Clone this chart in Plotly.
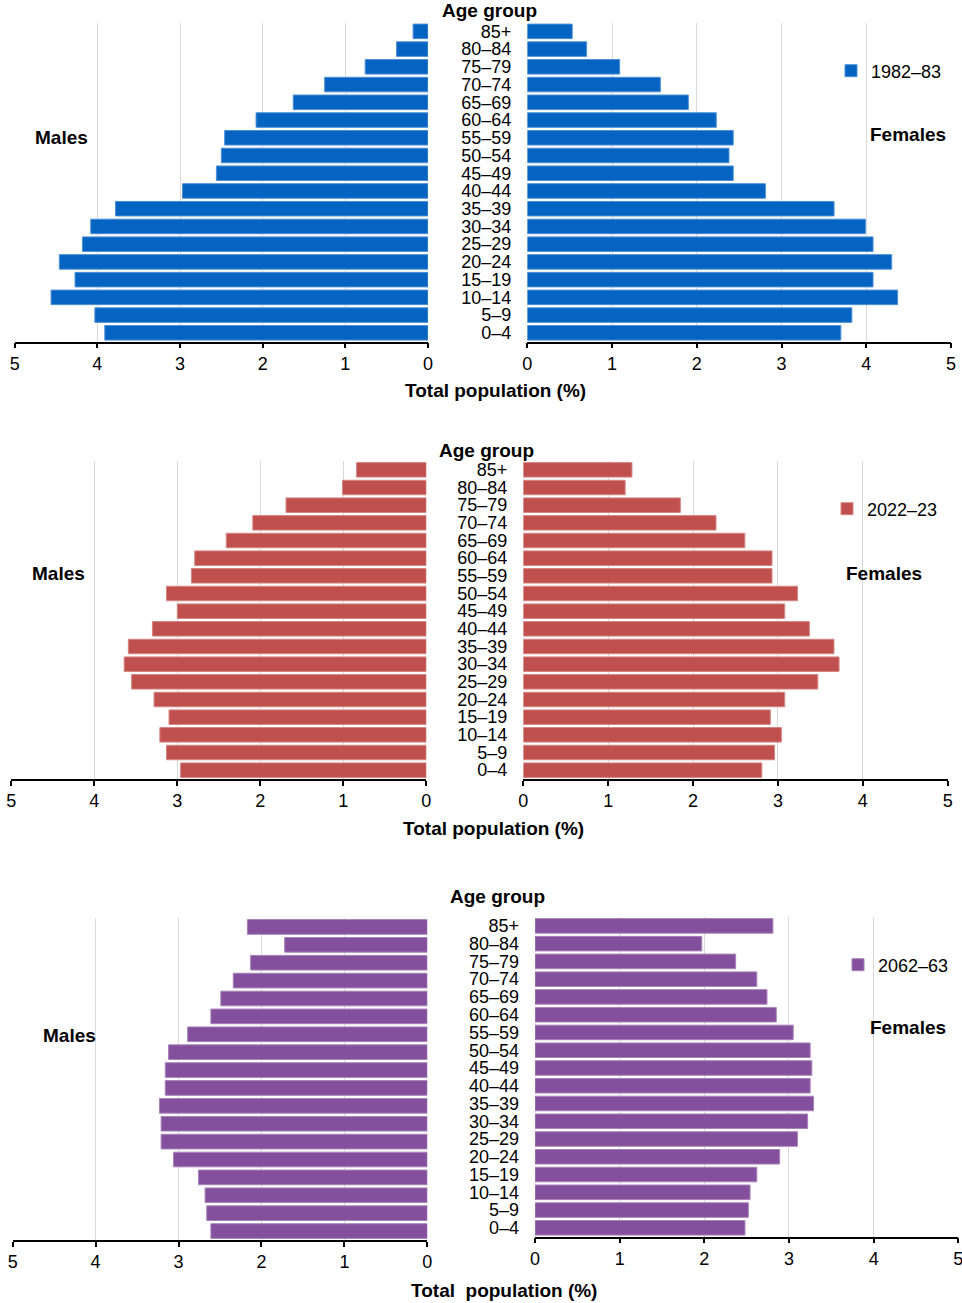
import plotly.graph_objects as go

# ---------------- data ----------------
age_groups = ["0–4", "5–9", "10–14", "15–19", "20–24", "25–29", "30–34", "35–39",
              "40–44", "45–49", "50–54", "55–59", "60–64", "65–69", "70–74",
              "75–79", "80–84", "85+"]

# values listed from 0–4 up to 85+ (percent of total population)
males_1982 = [3.91, 4.03, 4.56, 4.27, 4.46, 4.18, 4.08, 3.78, 2.97, 2.56, 2.50, 2.46,
              2.08, 1.63, 1.25, 0.76, 0.38, 0.18]
females_1982 = [3.70, 3.83, 4.37, 4.08, 4.30, 4.08, 3.99, 3.62, 2.81, 2.43, 2.38, 2.43,
                2.23, 1.90, 1.57, 1.09, 0.70, 0.53]
males_2022 = [2.96, 3.13, 3.21, 3.10, 3.28, 3.55, 3.64, 3.59, 3.30, 3.00, 3.13, 2.83,
              2.79, 2.41, 2.09, 1.69, 1.01, 0.84]
females_2022 = [2.81, 2.96, 3.04, 2.91, 3.08, 3.47, 3.72, 3.66, 3.37, 3.08, 3.23, 2.93,
                2.93, 2.61, 2.27, 1.85, 1.20, 1.28]
males_2062 = [2.61, 2.66, 2.68, 2.76, 3.06, 3.21, 3.21, 3.23, 3.16, 3.16, 3.12, 2.89,
              2.61, 2.49, 2.34, 2.13, 1.72, 2.17]
females_2062 = [2.48, 2.52, 2.54, 2.62, 2.89, 3.10, 3.22, 3.29, 3.25, 3.27, 3.25, 3.05,
                2.85, 2.74, 2.62, 2.37, 1.97, 2.81]

years = ["1982–83", "2022–23", "2062–63"]
colors = ["#0563C1", "#C0504D", "#844F9C"]
edge_colors = ["#4D8FD6", "#D48582", "#A683B8"]
x_ticks = [0, 1, 2, 3, 4, 5]

W, H = 962, 1303
FONT = "Liberation Sans, Arial, sans-serif"

# ---------------- layout geometry (pixels) ----------------
panels = [
    dict(m=(14.7, 428.0), f=(527.3, 951.0), my=(22.5, 341.7), fy=(22.5, 341.7),
         age=(489, 11), males=(61, 137), females=(908, 135), total=(495.5, 390),
         leg=(831, 71)),
    dict(m=(11.3, 426.3), f=(523.3, 947.7), my=(461.0, 779.0), fy=(461.0, 779.0),
         age=(487, 450), males=(58.5, 573), females=(884, 573), total=(493.5, 828),
         leg=(827, 509)),
    dict(m=(12.7, 427.3), f=(535.0, 958.3), my=(918.0, 1240.0), fy=(917.0, 1236.7),
         age=(497.5, 896), males=(69.5, 1035), females=(908, 1027), total=(504, 1290),
         leg=(838, 965)),
]
titles_total = ["Total population (%)", "Total population (%)", "Total  population (%)"]

male_data = [males_1982, males_2022, males_2062]
female_data = [females_1982, females_2022, females_2062]


def px_x(v):
    return v / W


def px_y(v):
    return 1 - v / H


fig = go.Figure()
layout = dict(
    width=W, height=H, autosize=False,
    margin=dict(l=0, r=0, t=0, b=0, pad=0, autoexpand=False),
    paper_bgcolor="white", plot_bgcolor="white",
    font=dict(family=FONT, size=18, color="#000000"),
    bargap=0.18,
    annotations=[],
)

for i, p in enumerate(panels):
    mx = 2 * i + 1
    fx = 2 * i + 2
    mxa = "x" if mx == 1 else f"x{mx}"
    mya = "y" if mx == 1 else f"y{mx}"
    fxa = f"x{fx}"
    fya = f"y{fx}"
    legname = "legend" if i == 0 else f"legend{i + 1}"

    fig.add_trace(go.Bar(
        y=age_groups, x=male_data[i], orientation="h",
        xaxis=mxa, yaxis=mya, name=years[i], showlegend=False,
        marker=dict(color=colors[i], line=dict(color=edge_colors[i], width=1)),
        hoverinfo="x+y",
    ))
    fig.add_trace(go.Bar(
        y=age_groups, x=female_data[i], orientation="h",
        xaxis=fxa, yaxis=fya, name=years[i], showlegend=True, legend=legname,
        marker=dict(color=colors[i], line=dict(color=edge_colors[i], width=1)),
        hoverinfo="x+y",
    ))

    xcommon = dict(
        tickvals=x_ticks, ticktext=[str(t) for t in x_ticks],
        showgrid=True, gridcolor="#D9D9D9", gridwidth=1,
        zeroline=False, showline=True, linecolor="#000000", linewidth=1.5,
        ticks="outside", ticklen=5, tickwidth=1.5, tickcolor="#000000",
        tickfont=dict(size=18, color="#000000", family=FONT),
        ticklabeloverflow="allow",
        automargin=False, fixedrange=True,
    )
    layout["xaxis" if mx == 1 else f"xaxis{mx}"] = dict(
        xcommon, domain=[px_x(p["m"][0]), px_x(p["m"][1])], range=[5, 0],
        anchor=mya)
    layout[f"xaxis{fx}"] = dict(
        xcommon, domain=[px_x(p["f"][0]), px_x(p["f"][1])], range=[0, 5],
        anchor=fya)

    layout["yaxis" if mx == 1 else f"yaxis{mx}"] = dict(
        domain=[px_y(p["my"][1]), px_y(p["my"][0])],
        type="category", categoryorder="array", categoryarray=age_groups,
        showticklabels=False, showgrid=False, zeroline=False, showline=False,
        ticks="", anchor=mxa, automargin=False, fixedrange=True)
    layout[f"yaxis{fx}"] = dict(
        domain=[px_y(p["fy"][1]), px_y(p["fy"][0])],
        type="category", categoryorder="array", categoryarray=age_groups,
        tickmode="array", tickvals=age_groups, ticktext=age_groups,
        showticklabels=True, showgrid=False, zeroline=False, showline=False,
        ticks="", ticklabelstandoff=15,
        tickfont=dict(size=18, color="#000000", family=FONT),
        anchor=fxa, automargin=False, fixedrange=True)

    layout[legname] = dict(
        x=px_x(p["leg"][0]), y=px_y(p["leg"][1]),
        xanchor="left", yanchor="middle",
        bgcolor="rgba(0,0,0,0)", borderwidth=0,
        font=dict(size=18, color="#000000", family=FONT),
        itemclick=False, itemdoubleclick=False,
    )

    bold = dict(family=FONT, size=19, color="#000000")
    for text, key in [("<b>Age group</b>", "age"), ("<b>Males</b>", "males"),
                      ("<b>Females</b>", "females"), (f"<b>{titles_total[i]}</b>", "total")]:
        layout["annotations"].append(dict(
            text=text, xref="paper", yref="paper",
            x=px_x(p[key][0]), y=px_y(p[key][1]),
            xanchor="center", yanchor="middle", showarrow=False, font=bold))

fig.update_layout(**layout)
fig.write_html(
    "out.html",
    config={"displayModeBar": False, "responsive": False},
    post_script="document.body.style.margin='0';document.body.style.overflow='hidden';",
)
